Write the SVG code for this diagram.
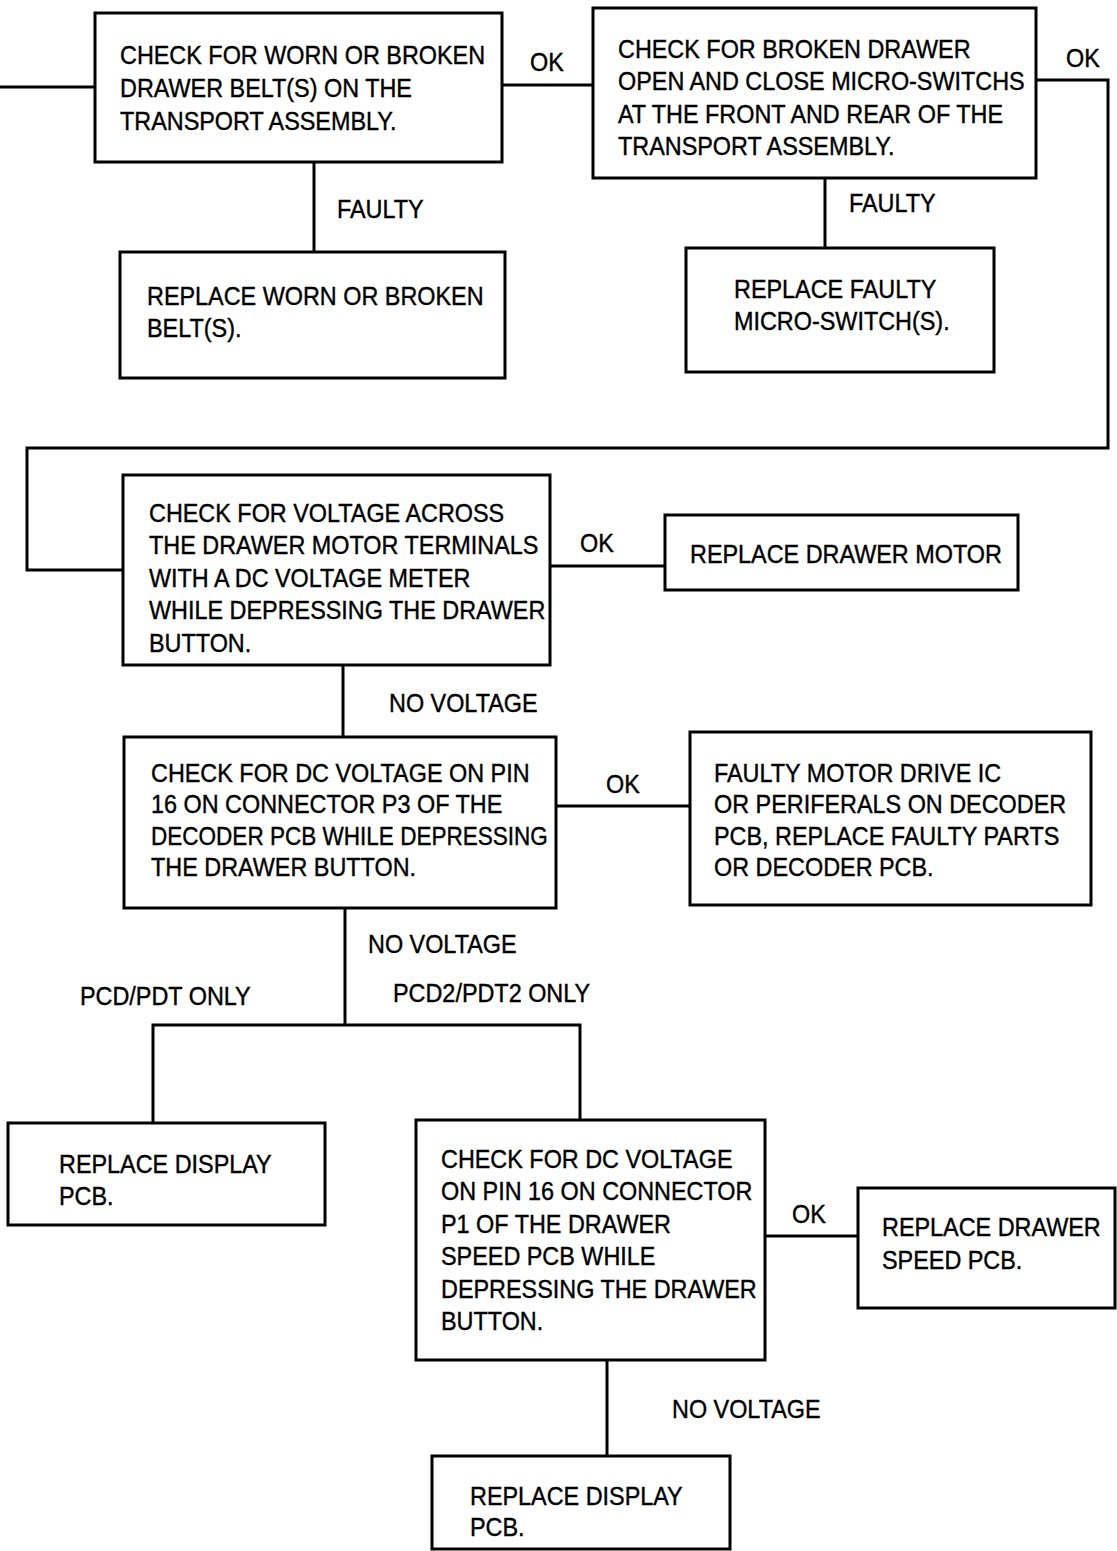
<svg xmlns="http://www.w3.org/2000/svg" width="1117" height="1551" viewBox="0 0 1117 1551">
<style>
.box{fill:#fff;stroke:#000;stroke-width:3}
.wire{fill:none;stroke:#000;stroke-width:3}
text{font-family:"Liberation Sans",Arial,sans-serif;font-size:26px;fill:#000;stroke:#000;stroke-width:0.4}
</style>
<rect width="1117" height="1551" fill="#fff"/>
<g id="connectors">
<path class="wire" d="M0 87H95"/>
<path class="wire" d="M502 85H593"/>
<path class="wire" d="M1036 80H1108V448H27V570H123"/>
<path class="wire" d="M314 162V252"/>
<path class="wire" d="M825 178V248"/>
<path class="wire" d="M550 566H665"/>
<path class="wire" d="M343 665V737"/>
<path class="wire" d="M556 806H690"/>
<path class="wire" d="M345 908V1025"/>
<path class="wire" d="M153 1123V1025H580V1120"/>
<path class="wire" d="M765 1236H858"/>
<path class="wire" d="M607 1360V1456"/>
<text transform="translate(530 71) scale(0.9 1)">OK</text>
<text transform="translate(1066 67) scale(0.9 1)">OK</text>
<text transform="translate(337 218) scale(0.9 1)">FAULTY</text>
<text transform="translate(849 212) scale(0.9 1)">FAULTY</text>
<text transform="translate(580 552) scale(0.9 1)">OK</text>
<text transform="translate(389 712) scale(0.9 1)">NO VOLTAGE</text>
<text transform="translate(606 793) scale(0.9 1)">OK</text>
<text transform="translate(368 953) scale(0.9 1)">NO VOLTAGE</text>
<text transform="translate(80 1005) scale(0.9 1)">PCD/PDT ONLY</text>
<text transform="translate(393 1002) scale(0.9 1)">PCD2/PDT2 ONLY</text>
<text transform="translate(792 1223) scale(0.9 1)">OK</text>
<text transform="translate(672 1418) scale(0.9 1)">NO VOLTAGE</text>
</g>
<g id="n1">
<rect class="box" x="95" y="13" width="407" height="149"/>
<text transform="translate(120 64) scale(0.9 1)"><tspan x="0">CHECK FOR WORN OR BROKEN</tspan><tspan x="0" dy="33">DRAWER BELT(S) ON THE</tspan><tspan x="0" dy="33">TRANSPORT ASSEMBLY.</tspan></text>
</g>
<g id="n2">
<rect class="box" x="593" y="8" width="443" height="170"/>
<text transform="translate(618 58) scale(0.9 1)"><tspan x="0">CHECK FOR BROKEN DRAWER</tspan><tspan x="0" dy="32.3">OPEN AND CLOSE MICRO-SWITCHS</tspan><tspan x="0" dy="32.3">AT THE FRONT AND REAR OF THE</tspan><tspan x="0" dy="32.3">TRANSPORT ASSEMBLY.</tspan></text>
</g>
<g id="n3">
<rect class="box" x="120" y="252" width="385" height="126"/>
<text transform="translate(147 305) scale(0.9 1)"><tspan x="0">REPLACE WORN OR BROKEN</tspan><tspan x="0" dy="32">BELT(S).</tspan></text>
</g>
<g id="n4">
<rect class="box" x="686" y="248" width="308" height="124"/>
<text transform="translate(734 298) scale(0.9 1)"><tspan x="0">REPLACE FAULTY</tspan><tspan x="0" dy="32">MICRO-SWITCH(S).</tspan></text>
</g>
<g id="n5">
<rect class="box" x="123" y="475" width="427" height="190"/>
<text transform="translate(149 522) scale(0.9 1)"><tspan x="0">CHECK FOR VOLTAGE ACROSS</tspan><tspan x="0" dy="32.5">THE DRAWER MOTOR TERMINALS</tspan><tspan x="0" dy="32.5">WITH A DC VOLTAGE METER</tspan><tspan x="0" dy="32.5">WHILE DEPRESSING THE DRAWER</tspan><tspan x="0" dy="32.5">BUTTON.</tspan></text>
</g>
<g id="n6">
<rect class="box" x="665" y="515" width="353" height="75"/>
<text transform="translate(690 563) scale(0.9 1)">REPLACE DRAWER MOTOR</text>
</g>
<g id="n7">
<rect class="box" x="124" y="737" width="432" height="171"/>
<text transform="translate(151 782) scale(0.9 1)"><tspan x="0">CHECK FOR DC VOLTAGE ON PIN</tspan><tspan x="0" dy="31.5">16 ON CONNECTOR P3 OF THE</tspan><tspan x="0" dy="31.5" textLength="441" lengthAdjust="spacingAndGlyphs">DECODER PCB WHILE DEPRESSING</tspan><tspan x="0" dy="31.5">THE DRAWER BUTTON.</tspan></text>
</g>
<g id="n8">
<rect class="box" x="690" y="732" width="401" height="173"/>
<text transform="translate(714 782) scale(0.9 1)"><tspan x="0">FAULTY MOTOR DRIVE IC</tspan><tspan x="0" dy="31.5">OR PERIFERALS ON DECODER</tspan><tspan x="0" dy="31.5">PCB, REPLACE FAULTY PARTS</tspan><tspan x="0" dy="31.5">OR DECODER PCB.</tspan></text>
</g>
<g id="n9">
<rect class="box" x="8" y="1123" width="317" height="102"/>
<text transform="translate(59 1173) scale(0.9 1)"><tspan x="0">REPLACE DISPLAY</tspan><tspan x="0" dy="32">PCB.</tspan></text>
</g>
<g id="n10">
<rect class="box" x="416" y="1120" width="349" height="240"/>
<text transform="translate(441 1168) scale(0.9 1)"><tspan x="0">CHECK FOR DC VOLTAGE</tspan><tspan x="0" dy="32.4">ON PIN 16 ON CONNECTOR</tspan><tspan x="0" dy="32.4">P1 OF THE DRAWER</tspan><tspan x="0" dy="32.4">SPEED PCB WHILE</tspan><tspan x="0" dy="32.4">DEPRESSING THE DRAWER</tspan><tspan x="0" dy="32.4">BUTTON.</tspan></text>
</g>
<g id="n11">
<rect class="box" x="858" y="1188" width="257" height="120"/>
<text transform="translate(882 1236) scale(0.9 1)"><tspan x="0">REPLACE DRAWER</tspan><tspan x="0" dy="33">SPEED PCB.</tspan></text>
</g>
<g id="n12">
<rect class="box" x="432" y="1456" width="298" height="93"/>
<text transform="translate(470 1505) scale(0.9 1)"><tspan x="0">REPLACE DISPLAY</tspan><tspan x="0" dy="31">PCB.</tspan></text>
</g>
</svg>
